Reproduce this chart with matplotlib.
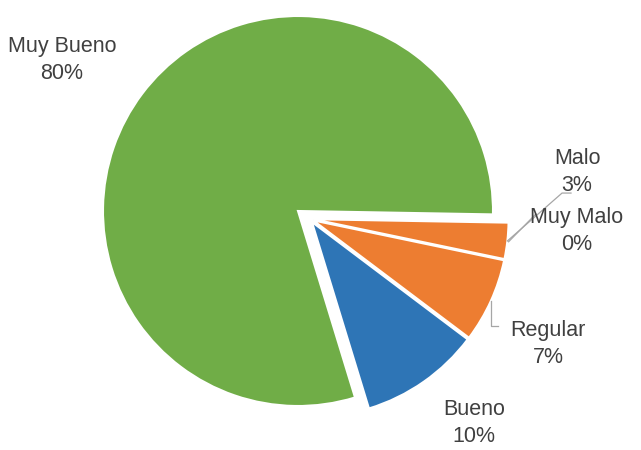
import numpy as np
import matplotlib
matplotlib.use("Agg")
from matplotlib import pyplot as plt

# encuesta: valoracion del servicio
categorias = ['Muy Malo', 'Malo', 'Regular', 'Bueno', 'Muy Bueno']
porcentajes = [0, 3, 7, 10, 80]
colores = ['#ED7D31', '#ED7D31', '#ED7D31', '#2E75B6', '#70AD47']
separacion = [0.02, 0.02, 0.02, 0.02, 0.0]
# desplazamiento comun del grupo separado
desplazamiento = (0.06, -0.04)

fig = plt.figure(figsize=(6.41, 4.5), dpi=100)
# centro del pastel en (298, 211) px, radio 195 px
R = 195.0
cx, cy = 298.0, 450 - 211.0
lim = 1.6
w = 2 * lim * R
ax = fig.add_axes([(cx - w / 2) / 641, (cy - w / 2) / 450, w / 641, w / 450])

wedges, _ = ax.pie(porcentajes, colors=colores, explode=separacion, startangle=-1,
                   counterclock=False, radius=1.0,
                   wedgeprops=dict(edgecolor='white', linewidth=1.5))
for wd, s in zip(wedges, separacion):
    if s > 0:
        c = wd.center
        wd.set_center((c[0] + desplazamiento[0], c[1] + desplazamiento[1]))

# pie() fija sus propios limites, se reponen despues
ax.set_xlim(-lim, lim)
ax.set_ylim(-lim, lim)
ax.set_aspect('equal')
ax.axis('off')

def borde(i):
    wd = wedges[i]
    ang = np.deg2rad((wd.theta1 + wd.theta2) / 2)
    return wd.center[0] + wd.r * np.cos(ang), wd.center[1] + wd.r * np.sin(ang)

# posiciones de las etiquetas (centro del texto)
pos_etiquetas = {
    'Muy Bueno': (-1.21, 0.774),
    'Malo': (1.431, 0.20),
    'Muy Malo': (1.431, -0.103),
    'Regular': (1.282, -0.682),
    'Bueno': (0.903, -1.087),
}
for nombre, p in zip(categorias, porcentajes):
    x, y = pos_etiquetas[nombre]
    ax.text(x, y, '%s\n%d%%' % (nombre, p), ha='center', va='center',
            fontsize=15.5, family='Liberation Sans', color='#404040',
            linespacing=1.4)

# lineas guia
gris = '#A6A6A6'
x0, y0 = borde(1)
ax.plot([x0, 1.354, 1.40], [y0, 0.092, 0.092], color=gris, lw=0.9)
x0, y0 = borde(0)
ax.plot([x0, 1.22], [y0 - 0.1, -0.015], color=gris, lw=0.9)
x0, y0 = borde(2)
ax.plot([x0, x0, x0 + 0.035], [y0, -0.59, -0.59], color=gris, lw=0.9)

plt.savefig('out.png', dpi=100)
